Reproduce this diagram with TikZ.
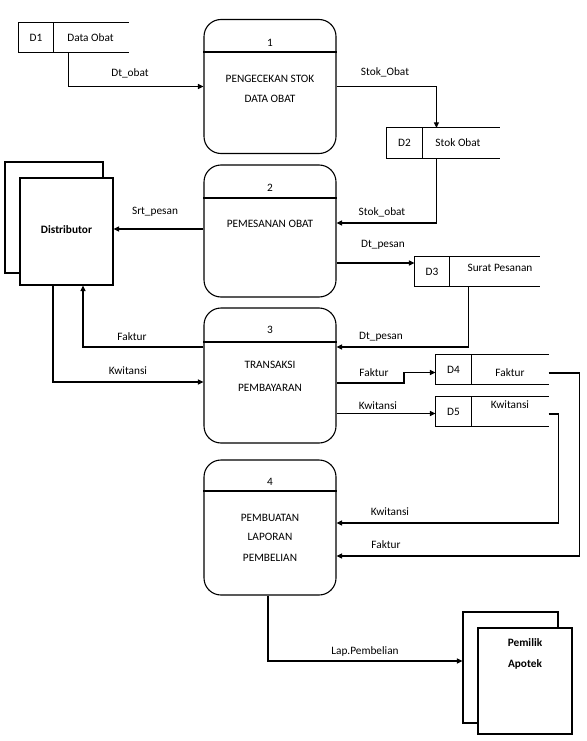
\documentclass[tikz,border=0pt]{standalone}
\usepackage{fontspec}
\setmainfont{Carlito}
\usetikzlibrary{arrows.meta,calc}
\begin{document}
\begin{tikzpicture}[x=1pt,y=-1pt,line width=1.1pt,
  every node/.style={font=\fontsize{11.3}{13}\selectfont, inner sep=0pt},
  proc/.style={draw, rounded corners=17pt, minimum width=132pt, minimum height=134pt},
  sid/.style={minimum width=34pt, minimum height=29pt},
  srest/.style={minimum height=29pt},
  ent/.style={draw, fill=white, minimum width=94pt},
  lbl/.style={},
  arr/.style={-{Triangle[length=5.5pt,width=5pt]}}]
\useasboundingbox (0,0) rectangle (586,741);

% processes
\node[proc] (p1) at (270,86.5) {};
\node[proc, minimum height=132pt] (p2) at (270,231) {};
\node[proc, minimum height=135pt] (p3) at (270,375.5) {};
\node[proc, minimum height=135pt] (p4) at (270,527.5) {};
\draw (p1.west |- 0,52) -- (p1.east |- 0,52);
\draw (p2.west |- 0,198) -- (p2.east |- 0,198);
\draw (p3.west |- 0,342) -- (p3.east |- 0,342);
\draw (p4.west |- 0,491) -- (p4.east |- 0,491);
\node (n1) at (270,43) {1};
\node (t1a) at (270,79) {PENGECEKAN STOK};
\node (t1b) at (270,99) {DATA OBAT};
\node (n2) at (270,188) {2};
\node (t2a) at (270,224) {PEMESANAN OBAT};
\node (n3) at (270,330) {3};
\node (t3a) at (270,365) {TRANSAKSI};
\node (t3b) at (270,388) {PEMBAYARAN};
\node (n4) at (270,482) {4};
\node (t4a) at (270,518) {PEMBUATAN};
\node (t4b) at (270,537) {LAPORAN};
\node (t4c) at (270,558) {PEMBELIAN};

% data stores
\node[sid] (d1id) at (36,37.5) {D1};
\node[srest, minimum width=75pt] (d1) at (90.5,37.5) {Data Obat};
\draw (d1.north east) -- (d1id.north west) -- (d1id.south west) -- (d1.south east)
      (d1id.north east) -- (d1id.south east);
\node[sid, minimum width=35pt] (d2id) at (404.5,143) {D2};
\node[srest, minimum width=77pt] (d2) at (460.5,143) {};
\node (d2t) at (458,143) {Stok Obat};
\draw (d2.north east) -- (d2id.north west) -- (d2id.south west) -- (d2.south east)
      (d2id.north east) -- (d2id.south east);
\node[sid] (d3id) at (432,271.5) {D3};
\node[srest, minimum width=90pt] (d3) at (494,271.5) {};
\node (d3t) at (500,268) {Surat Pesanan};
\draw (d3.north east) -- (d3id.north west) -- (d3id.south west) -- (d3.south east)
      (d3id.north east) -- (d3id.south east);
\node[sid, minimum width=35pt] (d4id) at (453.5,369.5) {D4};
\node[srest, minimum width=77pt] (d4) at (509.5,369.5) {};
\node (d4t) at (510,373) {Faktur};
\draw (d4.north east) -- (d4id.north west) -- (d4id.south west) -- (d4.south east)
      (d4id.north east) -- (d4id.south east);
\node[sid, minimum width=35pt] (d5id) at (453.5,411.5) {D5};
\node[srest, minimum width=77pt] (d5) at (509.5,411.5) {};
\node (d5t) at (510,405) {Kwitansi};
\draw (d5.north east) -- (d5id.north west) -- (d5id.south west) -- (d5.south east)
      (d5id.north east) -- (d5id.south east);

% external entities
\node[ent, minimum width=98pt, minimum height=111pt] (distb) at (54,217.5) {};
\node[ent, minimum width=93pt, minimum height=107pt] (dist) at (66.5,231.5) {};
\node[font=\fontsize{11.3}{13}\selectfont\bfseries] (distt) at (66.5,230) {Distributor};
\node[ent, minimum width=95pt, minimum height=111pt] (pemb) at (510.5,667.5) {};
\node[ent, minimum width=94pt, minimum height=106pt] (pem) at (525,681) {};
\node[font=\fontsize{11.3}{13}\selectfont\bfseries] (pemt1) at (525,643) {Pemilik};
\node[font=\fontsize{11.3}{13}\selectfont\bfseries] (pemt2) at (525,664) {Apotek};

% connectors
\coordinate (c1) at ($(d1.south west)+(16,0)$);
\draw[arr] (c1) |- (p1.west);
\node[lbl] (l1) at (130,73) {Dt\_obat};

\coordinate (c2) at ($(d2.north west)+(15,0)$);
\draw[arr] (p1.east) -| (c2);
\node[lbl] (l2) at (385,72) {Stok\_Obat};

\coordinate (c3) at ($(d2.south west)+(15,0)$);
\coordinate (c3e) at ($(p2.east)+(0,-8)$);
\draw[arr] (c3) |- (c3e);
\node[lbl] (l3) at (382,212) {Stok\_obat};

\coordinate (c4) at ($(p2.west)+(0,-2)$);
\draw[arr] (c4) -- (c4 -| dist.east);
\node[lbl] (l4) at (155,212) {Srt\_pesan};

\coordinate (c5) at ($(p2.east)+(0,32)$);
\draw[arr] (c5) -- (c5 -| d3id.west);
\node[lbl] (l5) at (383,245) {Dt\_pesan};

\coordinate (c6) at ($(d3.south west)+(20,0)$);
\coordinate (c6e) at ($(p3.east)+(0,-28.5)$);
\draw[arr] (c6) |- (c6e);
\node[lbl] (l6) at (381,337) {Dt\_pesan};

\coordinate (c7) at ($(p3.west)+(0,-28.5)$);
\coordinate (c7e) at ($(dist.south)+(16.5,0)$);
\draw[arr] (c7) -| (c7e);
\node[lbl] (l7) at (132,337) {Faktur};

\coordinate (c8) at ($(dist.south)+(-13.5,0)$);
\coordinate (c8e) at ($(p3.west)+(0,6.5)$);
\draw[arr] (c8) |- (c8e);
\node[lbl] (l8) at (128,371) {Kwitansi};

\coordinate (c9) at ($(p3.east)+(0,7.5)$);
\coordinate (c9m) at (404,383);
\draw[arr] (c9) -- (c9 -| c9m) |- ($(d4id.west)+(0,3)$);
\node[lbl] (l9) at (374,373) {Faktur};

\coordinate (c10) at ($(p3.east)+(0,38)$);
\draw[arr] (c10) -- (c10 -| d5id.west);
\node[lbl] (l10) at (378,406) {Kwitansi};

\coordinate (c11) at ($(d4.east)+(0,3.5)$);
\coordinate (c11e) at ($(p4.east)+(0,28.5)$);
\draw[arr] (c11) -- ++(31,0) |- (c11e);
\node[lbl] (l11) at (386,545) {Faktur};

\coordinate (c12) at ($(d5.east)+(0,2.5)$);
\coordinate (c12e) at ($(p4.east)+(0,-4.5)$);
\draw[arr] (c12) -- ++(10,0) |- (c12e);
\node[lbl] (l12) at (390,512) {Kwitansi};

\coordinate (c13) at ($(p4.south)+(-2,0)$);
\coordinate (c13e) at ($(pemb.west)+(0,-6.5)$);
\draw[arr] (c13) |- (c13e);
\node[lbl] (l13) at (365,651) {Lap.Pembelian};
\end{tikzpicture}
\end{document}
